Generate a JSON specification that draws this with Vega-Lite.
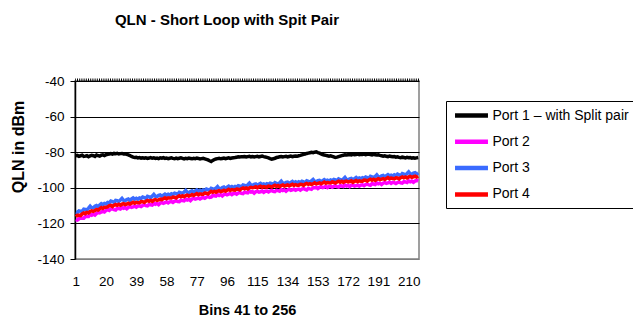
{
"$schema": "https://vega.github.io/schema/vega-lite/v6.json",
"width": 344, "height": 178,
"autosize": "none",
"padding": {"left": 75, "top": 81, "right": 214, "bottom": 60},
"background": "white",
"config": {"font": "Liberation Sans", "view": {"stroke": "#808080", "strokeWidth": 1.5}},
"title": {"text": "QLN - Short Loop with Spit Pair", "frame": "group", "anchor": "middle", "offset": 46, "dx": -20, "fontSize": 15, "fontWeight": "bold", "font": "Liberation Sans", "color": "black"},
"layer": [
{
"data": {"values": [
{"b":1,"P1":-82.1,"P2":-117.8,"P3":-113.7,"P4":-116.2},
{"b":2,"P1":-81.8,"P2":-118.1,"P3":-113.9,"P4":-115.4},
{"b":3,"P1":-82.3,"P2":-117.4,"P3":-113.0,"P4":-115.4},
{"b":4,"P1":-82.0,"P2":-116.8,"P3":-113.1,"P4":-115.6},
{"b":5,"P1":-81.7,"P2":-117.1,"P3":-113.3,"P4":-114.7},
{"b":6,"P1":-82.4,"P2":-117.1,"P3":-112.0,"P4":-114.1},
{"b":7,"P1":-82.2,"P2":-116.1,"P3":-112.2,"P4":-114.5},
{"b":8,"P1":-81.9,"P2":-116.1,"P3":-112.4,"P4":-113.8},
{"b":9,"P1":-82.5,"P2":-116.1,"P3":-111.4,"P4":-114.1},
{"b":10,"P1":-82.1,"P2":-115.0,"P3":-110.3,"P4":-113.3},
{"b":11,"P1":-81.8,"P2":-115.4,"P3":-111.3,"P4":-112.9},
{"b":12,"P1":-82.0,"P2":-114.8,"P3":-111.2,"P4":-113.2},
{"b":13,"P1":-82.4,"P2":-115.3,"P3":-110.4,"P4":-112.7},
{"b":14,"P1":-81.6,"P2":-114.4,"P3":-110.0,"P4":-112.2},
{"b":15,"P1":-81.9,"P2":-113.8,"P3":-110.6,"P4":-112.5},
{"b":16,"P1":-82.2,"P2":-114.1,"P3":-109.7,"P4":-111.8},
{"b":17,"P1":-81.7,"P2":-113.6,"P3":-108.9,"P4":-111.1},
{"b":18,"P1":-81.5,"P2":-113.1,"P3":-109.5,"P4":-111.6},
{"b":19,"P1":-81.9,"P2":-113.5,"P3":-108.8,"P4":-110.9},
{"b":20,"P1":-81.4,"P2":-112.7,"P3":-109.1,"P4":-110.9},
{"b":21,"P1":-81.2,"P2":-112.3,"P3":-108.2,"P4":-110.7},
{"b":22,"P1":-81.0,"P2":-112.7,"P3":-108.5,"P4":-110.0},
{"b":23,"P1":-80.8,"P2":-111.9,"P3":-107.5,"P4":-109.9},
{"b":24,"P1":-81.1,"P2":-111.8,"P3":-107.8,"P4":-110.5},
{"b":25,"P1":-80.7,"P2":-112.3,"P3":-108.2,"P4":-109.8},
{"b":26,"P1":-80.9,"P2":-112.5,"P3":-107.1,"P4":-109.4},
{"b":27,"P1":-80.6,"P2":-111.5,"P3":-107.3,"P4":-109.8},
{"b":28,"P1":-81.0,"P2":-111.7,"P3":-107.7,"P4":-109.3},
{"b":29,"P1":-80.8,"P2":-111.9,"P3":-106.9,"P4":-109.8},
{"b":30,"P1":-80.7,"P2":-111.0,"P3":-106.0,"P4":-109.2},
{"b":31,"P1":-81.0,"P2":-111.5,"P3":-107.1,"P4":-108.9},
{"b":32,"P1":-80.9,"P2":-111.1,"P3":-107.2,"P4":-109.4},
{"b":33,"P1":-81.2,"P2":-111.8,"P3":-106.6,"P4":-109.1},
{"b":34,"P1":-81.5,"P2":-111.0,"P3":-106.3,"P4":-108.7},
{"b":35,"P1":-81.9,"P2":-110.5,"P3":-107.0,"P4":-109.1},
{"b":36,"P1":-82.4,"P2":-111.0,"P3":-106.3,"P4":-108.6},
{"b":37,"P1":-82.8,"P2":-110.7,"P3":-105.7,"P4":-108.1},
{"b":38,"P1":-83.0,"P2":-110.3,"P3":-106.4,"P4":-108.7},
{"b":39,"P1":-82.9,"P2":-110.9,"P3":-105.9,"P4":-108.2},
{"b":40,"P1":-83.2,"P2":-110.3,"P3":-106.4,"P4":-108.4},
{"b":41,"P1":-83.0,"P2":-110.1,"P3":-105.7,"P4":-108.4},
{"b":42,"P1":-83.3,"P2":-110.5,"P3":-106.0,"P4":-107.7},
{"b":43,"P1":-83.1,"P2":-109.9,"P3":-105.2,"P4":-107.8},
{"b":44,"P1":-83.4,"P2":-109.5,"P3":-105.5,"P4":-108.2},
{"b":45,"P1":-83.2,"P2":-110.0,"P3":-105.9,"P4":-107.5},
{"b":46,"P1":-83.5,"P2":-110.2,"P3":-104.8,"P4":-107.1},
{"b":47,"P1":-83.3,"P2":-109.3,"P3":-105.1,"P4":-107.6},
{"b":48,"P1":-83.0,"P2":-109.5,"P3":-105.5,"P4":-107.1},
{"b":49,"P1":-83.4,"P2":-109.7,"P3":-104.7,"P4":-107.6},
{"b":50,"P1":-83.2,"P2":-108.7,"P3":-103.7,"P4":-106.9},
{"b":51,"P1":-83.5,"P2":-109.2,"P3":-104.8,"P4":-106.6},
{"b":52,"P1":-83.3,"P2":-108.8,"P3":-104.9,"P4":-107.1},
{"b":53,"P1":-83.6,"P2":-109.5,"P3":-104.3,"P4":-106.8},
{"b":54,"P1":-83.2,"P2":-108.7,"P3":-104.0,"P4":-106.4},
{"b":55,"P1":-83.4,"P2":-108.2,"P3":-104.8,"P4":-106.6},
{"b":56,"P1":-83.1,"P2":-108.7,"P3":-104.1,"P4":-106.1},
{"b":57,"P1":-83.5,"P2":-108.4,"P3":-103.5,"P4":-105.6},
{"b":58,"P1":-83.3,"P2":-107.9,"P3":-104.1,"P4":-106.1},
{"b":59,"P1":-83.6,"P2":-108.5,"P3":-103.6,"P4":-105.6},
{"b":60,"P1":-83.4,"P2":-107.9,"P3":-104.1,"P4":-105.8},
{"b":61,"P1":-83.2,"P2":-107.7,"P3":-103.4,"P4":-105.8},
{"b":62,"P1":-83.5,"P2":-108.2,"P3":-103.8,"P4":-105.2},
{"b":63,"P1":-83.7,"P2":-107.6,"P3":-103.0,"P4":-105.3},
{"b":64,"P1":-83.3,"P2":-107.2,"P3":-103.3,"P4":-105.7},
{"b":65,"P1":-83.6,"P2":-107.7,"P3":-103.7,"P4":-105.0},
{"b":66,"P1":-83.4,"P2":-107.8,"P3":-102.5,"P4":-104.5},
{"b":67,"P1":-83.2,"P2":-106.9,"P3":-102.8,"P4":-105.0},
{"b":68,"P1":-83.5,"P2":-107.1,"P3":-103.2,"P4":-104.5},
{"b":69,"P1":-83.8,"P2":-107.3,"P3":-102.4,"P4":-105.0},
{"b":70,"P1":-83.4,"P2":-106.4,"P3":-101.5,"P4":-104.4},
{"b":71,"P1":-83.6,"P2":-106.9,"P3":-102.6,"P4":-104.1},
{"b":72,"P1":-83.3,"P2":-106.5,"P3":-102.7,"P4":-104.6},
{"b":73,"P1":-83.5,"P2":-107.2,"P3":-102.1,"P4":-104.3},
{"b":74,"P1":-83.7,"P2":-106.3,"P3":-101.7,"P4":-103.8},
{"b":75,"P1":-83.4,"P2":-105.9,"P3":-102.5,"P4":-104.3},
{"b":76,"P1":-83.6,"P2":-106.4,"P3":-101.8,"P4":-103.8},
{"b":77,"P1":-83.3,"P2":-106.1,"P3":-101.2,"P4":-103.3},
{"b":78,"P1":-83.5,"P2":-105.7,"P3":-101.9,"P4":-103.9},
{"b":79,"P1":-83.8,"P2":-106.3,"P3":-101.4,"P4":-103.4},
{"b":80,"P1":-83.6,"P2":-105.7,"P3":-101.9,"P4":-103.6},
{"b":81,"P1":-83.4,"P2":-105.5,"P3":-101.2,"P4":-103.6},
{"b":82,"P1":-83.7,"P2":-105.9,"P3":-101.5,"P4":-102.9},
{"b":83,"P1":-84.0,"P2":-105.3,"P3":-100.7,"P4":-103.0},
{"b":84,"P1":-84.3,"P2":-104.9,"P3":-101.0,"P4":-103.4},
{"b":85,"P1":-84.8,"P2":-105.4,"P3":-101.4,"P4":-102.7},
{"b":86,"P1":-85.2,"P2":-105.2,"P3":-100.3,"P4":-102.0},
{"b":87,"P1":-84.6,"P2":-104.3,"P3":-100.6,"P4":-102.5},
{"b":88,"P1":-84.1,"P2":-104.5,"P3":-101.0,"P4":-102.0},
{"b":89,"P1":-83.8,"P2":-104.7,"P3":-100.2,"P4":-102.5},
{"b":90,"P1":-83.6,"P2":-103.8,"P3":-99.3,"P4":-101.9},
{"b":91,"P1":-83.4,"P2":-104.3,"P3":-100.4,"P4":-101.6},
{"b":92,"P1":-83.7,"P2":-103.9,"P3":-100.5,"P4":-102.1},
{"b":93,"P1":-83.5,"P2":-104.6,"P3":-99.9,"P4":-101.8},
{"b":94,"P1":-83.3,"P2":-103.8,"P3":-99.6,"P4":-101.4},
{"b":95,"P1":-83.6,"P2":-103.4,"P3":-100.4,"P4":-101.9},
{"b":96,"P1":-83.4,"P2":-103.9,"P3":-99.7,"P4":-101.4},
{"b":97,"P1":-83.2,"P2":-103.6,"P3":-99.1,"P4":-100.9},
{"b":98,"P1":-83.5,"P2":-103.2,"P3":-99.8,"P4":-101.5},
{"b":99,"P1":-83.3,"P2":-103.8,"P3":-99.3,"P4":-101.0},
{"b":100,"P1":-83.1,"P2":-103.2,"P3":-99.8,"P4":-101.2},
{"b":101,"P1":-83.0,"P2":-103.1,"P3":-99.2,"P4":-101.3},
{"b":102,"P1":-82.8,"P2":-103.6,"P3":-99.6,"P4":-100.7},
{"b":103,"P1":-82.6,"P2":-103.0,"P3":-98.8,"P4":-100.8},
{"b":104,"P1":-82.7,"P2":-102.6,"P3":-99.1,"P4":-101.2},
{"b":105,"P1":-82.5,"P2":-103.1,"P3":-99.5,"P4":-100.5},
{"b":106,"P1":-82.6,"P2":-103.3,"P3":-98.4,"P4":-100.1},
{"b":107,"P1":-82.4,"P2":-102.4,"P3":-98.7,"P4":-100.6},
{"b":108,"P1":-82.7,"P2":-102.6,"P3":-99.1,"P4":-100.1},
{"b":109,"P1":-82.5,"P2":-102.8,"P3":-98.3,"P4":-100.6},
{"b":110,"P1":-82.3,"P2":-101.9,"P3":-97.4,"P4":-100.0},
{"b":111,"P1":-82.6,"P2":-102.4,"P3":-98.5,"P4":-99.7},
{"b":112,"P1":-82.4,"P2":-102.2,"P3":-98.6,"P4":-100.0},
{"b":113,"P1":-82.7,"P2":-103.0,"P3":-98.1,"P4":-99.8},
{"b":114,"P1":-82.5,"P2":-102.2,"P3":-97.8,"P4":-99.4},
{"b":115,"P1":-82.3,"P2":-101.9,"P3":-98.7,"P4":-100.0},
{"b":116,"P1":-82.6,"P2":-102.4,"P3":-98.0,"P4":-99.5},
{"b":117,"P1":-82.4,"P2":-102.2,"P3":-97.5,"P4":-99.1},
{"b":118,"P1":-82.2,"P2":-101.8,"P3":-98.2,"P4":-99.7},
{"b":119,"P1":-82.5,"P2":-102.5,"P3":-97.8,"P4":-99.3},
{"b":120,"P1":-82.7,"P2":-101.9,"P3":-98.3,"P4":-99.5},
{"b":121,"P1":-82.9,"P2":-101.8,"P3":-97.7,"P4":-99.6},
{"b":122,"P1":-83.2,"P2":-102.3,"P3":-98.1,"P4":-99.0},
{"b":123,"P1":-83.6,"P2":-101.8,"P3":-97.4,"P4":-99.2},
{"b":124,"P1":-83.9,"P2":-101.4,"P3":-97.7,"P4":-99.6},
{"b":125,"P1":-83.7,"P2":-102.0,"P3":-98.2,"P4":-99.0},
{"b":126,"P1":-83.4,"P2":-102.2,"P3":-97.1,"P4":-98.6},
{"b":127,"P1":-83.0,"P2":-101.4,"P3":-97.5,"P4":-99.2},
{"b":128,"P1":-82.8,"P2":-101.6,"P3":-97.9,"P4":-98.7},
{"b":129,"P1":-82.6,"P2":-101.9,"P3":-97.2,"P4":-99.3},
{"b":130,"P1":-82.4,"P2":-101.0,"P3":-96.3,"P4":-98.7},
{"b":131,"P1":-82.7,"P2":-101.5,"P3":-97.4,"P4":-98.4},
{"b":132,"P1":-82.5,"P2":-101.2,"P3":-97.6,"P4":-99.0},
{"b":133,"P1":-82.3,"P2":-101.9,"P3":-97.0,"P4":-98.7},
{"b":134,"P1":-82.6,"P2":-101.2,"P3":-96.8,"P4":-98.4},
{"b":135,"P1":-82.4,"P2":-100.8,"P3":-97.6,"P4":-98.9},
{"b":136,"P1":-82.2,"P2":-101.4,"P3":-97.0,"P4":-98.5},
{"b":137,"P1":-82.5,"P2":-101.1,"P3":-96.4,"P4":-98.0},
{"b":138,"P1":-82.3,"P2":-100.8,"P3":-97.2,"P4":-98.7},
{"b":139,"P1":-82.1,"P2":-101.4,"P3":-96.7,"P4":-98.2},
{"b":140,"P1":-82.3,"P2":-100.9,"P3":-97.3,"P4":-98.5},
{"b":141,"P1":-82.0,"P2":-100.7,"P3":-96.6,"P4":-98.5},
{"b":142,"P1":-81.8,"P2":-101.3,"P3":-97.1,"P4":-98.0},
{"b":143,"P1":-81.5,"P2":-100.7,"P3":-96.3,"P4":-98.1},
{"b":144,"P1":-81.2,"P2":-100.4,"P3":-96.7,"P4":-98.6},
{"b":145,"P1":-81.0,"P2":-100.9,"P3":-97.1,"P4":-97.9},
{"b":146,"P1":-80.7,"P2":-101.2,"P3":-96.1,"P4":-97.6},
{"b":147,"P1":-80.5,"P2":-100.3,"P3":-96.4,"P4":-98.1},
{"b":148,"P1":-80.3,"P2":-100.6,"P3":-96.9,"P4":-97.7},
{"b":149,"P1":-80.1,"P2":-100.8,"P3":-96.1,"P4":-98.2},
{"b":150,"P1":-80.3,"P2":-100.0,"P3":-95.3,"P4":-97.7},
{"b":151,"P1":-80.0,"P2":-100.0,"P3":-96.4,"P4":-97.2},
{"b":152,"P1":-79.8,"P2":-99.7,"P3":-96.6,"P4":-97.8},
{"b":153,"P1":-80.2,"P2":-100.4,"P3":-96.0,"P4":-97.5},
{"b":154,"P1":-80.5,"P2":-99.7,"P3":-95.8,"P4":-97.2},
{"b":155,"P1":-80.9,"P2":-99.3,"P3":-96.6,"P4":-97.7},
{"b":156,"P1":-81.3,"P2":-99.9,"P3":-96.0,"P4":-97.3},
{"b":157,"P1":-81.6,"P2":-99.6,"P3":-95.4,"P4":-96.8},
{"b":158,"P1":-81.8,"P2":-99.2,"P3":-96.1,"P4":-97.4},
{"b":159,"P1":-82.0,"P2":-99.9,"P3":-95.7,"P4":-97.0},
{"b":160,"P1":-82.2,"P2":-99.3,"P3":-96.2,"P4":-97.2},
{"b":161,"P1":-82.0,"P2":-99.2,"P3":-95.6,"P4":-97.3},
{"b":162,"P1":-82.3,"P2":-99.7,"P3":-96.0,"P4":-96.7},
{"b":163,"P1":-82.6,"P2":-99.2,"P3":-95.3,"P4":-96.9},
{"b":164,"P1":-83.0,"P2":-98.8,"P3":-95.6,"P4":-97.3},
{"b":165,"P1":-82.8,"P2":-99.4,"P3":-96.1,"P4":-96.7},
{"b":166,"P1":-82.5,"P2":-99.6,"P3":-95.0,"P4":-96.3},
{"b":167,"P1":-82.2,"P2":-98.8,"P3":-95.4,"P4":-96.9},
{"b":168,"P1":-81.9,"P2":-99.0,"P3":-95.8,"P4":-96.4},
{"b":169,"P1":-81.7,"P2":-99.3,"P3":-95.1,"P4":-97.0},
{"b":170,"P1":-81.5,"P2":-98.4,"P3":-94.2,"P4":-96.4},
{"b":171,"P1":-81.6,"P2":-99.0,"P3":-95.4,"P4":-96.2},
{"b":172,"P1":-81.4,"P2":-98.6,"P3":-95.5,"P4":-96.7},
{"b":173,"P1":-81.3,"P2":-99.4,"P3":-95.0,"P4":-96.5},
{"b":174,"P1":-81.5,"P2":-98.6,"P3":-94.7,"P4":-96.1},
{"b":175,"P1":-81.2,"P2":-98.6,"P3":-95.5,"P4":-96.9},
{"b":176,"P1":-81.4,"P2":-99.1,"P3":-94.8,"P4":-96.4},
{"b":177,"P1":-81.3,"P2":-98.8,"P3":-94.2,"P4":-95.9},
{"b":178,"P1":-81.1,"P2":-98.5,"P3":-95.0,"P4":-96.6},
{"b":179,"P1":-81.4,"P2":-99.1,"P3":-94.5,"P4":-96.1},
{"b":180,"P1":-81.2,"P2":-98.5,"P3":-95.0,"P4":-96.3},
{"b":181,"P1":-81.3,"P2":-98.3,"P3":-94.3,"P4":-96.3},
{"b":182,"P1":-81.1,"P2":-98.8,"P3":-94.7,"P4":-95.7},
{"b":183,"P1":-81.4,"P2":-98.2,"P3":-93.9,"P4":-95.8},
{"b":184,"P1":-81.2,"P2":-97.9,"P3":-94.3,"P4":-96.3},
{"b":185,"P1":-81.0,"P2":-98.4,"P3":-94.7,"P4":-95.6},
{"b":186,"P1":-81.3,"P2":-98.6,"P3":-93.6,"P4":-95.2},
{"b":187,"P1":-81.5,"P2":-97.7,"P3":-93.9,"P4":-95.7},
{"b":188,"P1":-81.2,"P2":-97.9,"P3":-94.3,"P4":-95.2},
{"b":189,"P1":-81.4,"P2":-98.2,"P3":-93.6,"P4":-95.8},
{"b":190,"P1":-81.6,"P2":-97.3,"P3":-92.7,"P4":-95.2},
{"b":191,"P1":-81.5,"P2":-97.8,"P3":-93.8,"P4":-94.9},
{"b":192,"P1":-81.8,"P2":-97.4,"P3":-93.9,"P4":-95.4},
{"b":193,"P1":-82.0,"P2":-98.1,"P3":-93.3,"P4":-95.1},
{"b":194,"P1":-82.2,"P2":-97.4,"P3":-93.1,"P4":-94.8},
{"b":195,"P1":-82.0,"P2":-97.0,"P3":-93.9,"P4":-95.3},
{"b":196,"P1":-82.3,"P2":-97.5,"P3":-93.2,"P4":-94.8},
{"b":197,"P1":-82.5,"P2":-97.2,"P3":-92.6,"P4":-94.3},
{"b":198,"P1":-82.2,"P2":-96.8,"P3":-93.3,"P4":-94.9},
{"b":199,"P1":-82.4,"P2":-97.5,"P3":-92.9,"P4":-94.5},
{"b":200,"P1":-82.6,"P2":-96.9,"P3":-93.4,"P4":-94.7},
{"b":201,"P1":-82.5,"P2":-97.1,"P3":-92.7,"P4":-95.0},
{"b":202,"P1":-82.8,"P2":-97.6,"P3":-93.1,"P4":-94.4},
{"b":203,"P1":-82.6,"P2":-97.0,"P3":-92.3,"P4":-94.5},
{"b":204,"P1":-82.9,"P2":-96.7,"P3":-92.7,"P4":-95.0},
{"b":205,"P1":-83.1,"P2":-97.2,"P3":-93.1,"P4":-94.3},
{"b":206,"P1":-82.8,"P2":-97.4,"P3":-92.0,"P4":-93.9},
{"b":207,"P1":-83.0,"P2":-96.5,"P3":-92.3,"P4":-94.4},
{"b":208,"P1":-83.2,"P2":-96.7,"P3":-92.7,"P4":-93.9},
{"b":209,"P1":-82.9,"P2":-97.0,"P3":-92.0,"P4":-94.5},
{"b":210,"P1":-83.1,"P2":-96.1,"P3":-91.1,"P4":-93.9},
{"b":211,"P1":-83.0,"P2":-96.6,"P3":-92.2,"P4":-93.6},
{"b":212,"P1":-83.3,"P2":-96.2,"P3":-92.3,"P4":-94.1},
{"b":213,"P1":-83.1,"P2":-96.9,"P3":-91.7,"P4":-93.8},
{"b":214,"P1":-83.4,"P2":-96.2,"P3":-91.5,"P4":-93.5},
{"b":215,"P1":-83.2,"P2":-95.8,"P3":-92.3,"P4":-94.0},
{"b":216,"P1":-83.0,"P2":-96.3,"P3":-91.6,"P4":-93.5}
]},
"transform": [{"fold": ["P1","P2","P3","P4"], "as": ["s","v"]}],
"mark": {"type": "line", "strokeWidth": 3.5, "clip": true},
"encoding": {
 "x": {"field": "b", "type": "quantitative",
   "scale": {"domain": [0.5, 216.5], "nice": false, "zero": false},
   "axis": {"values": [1,20,39,58,77,96,115,134,153,172,191,210], "tickCount": 20, "grid": false, "ticks": false, "domain": false,
     "labelPadding": 15, "labelFontSize": 13.5, "labelColor": "black", "labelFlush": false, "labelOverlap": false,
     "title": "Bins 41 to 256", "titleFontSize": 14.5, "titleFontWeight": "bold", "titleColor": "black", "titleY": 44, "titleBaseline": "top"}},
 "y": {"field": "v", "type": "quantitative",
   "scale": {"domain": [-140, -40], "nice": false, "zero": false},
   "axis": {"values": [-140,-120,-100,-80,-60,-40], "tickCount": 10, "grid": true,
     "gridColor": {"condition": {"test": "datum.value == -140", "value": "#808080"}, "value": "black"},
     "gridWidth": 1, "gridOpacity": 1, "domainColor": "black", "domainWidth": 1.5, "tickColor": "black", "tickSize": 5,
     "labelPadding": 6, "labelFontSize": 13.5, "labelColor": "black", "labelOverlap": false, "labelFlush": false,
     "labelExpr": "'-' + abs(datum.value)",
     "title": "QLN in dBm", "titleFontSize": 16, "titleFontWeight": "bold", "titleColor": "black",
     "titleX": -57, "titleY": 65.5, "titleBaseline": "middle", "titleAlign": "center"}},
 "color": {"field": "s", "type": "nominal",
   "scale": {"domain": ["P1","P2","P3","P4"], "range": ["#000000","#FF00FF","#3A6BFF","#FF0000"]},
   "legend": {"title": null, "orient": "none", "legendX": 371, "legendY": 20,
     "strokeColor": "black", "fillColor": "white", "padding": 4,
     "symbolType": "M-2.06,0L2.06,0", "symbolSize": 256, "symbolStrokeWidth": 4.5, "symbolOffset": 11,
     "labelFontSize": 14, "labelColor": "black", "labelFont": "Liberation Sans", "labelLimit": 300,
     "rowPadding": 6.3, "labelOffset": 10.5,
     "labelExpr": "datum.label == 'P1' ? 'Port 1 – with Split pair' : datum.label == 'P2' ? 'Port 2' : datum.label == 'P3' ? 'Port 3' : 'Port 4'"}}
}
},
{
"data": {"values": [{"v": -40}]},
"mark": {"type": "rule", "strokeWidth": 3, "strokeDash": [1, 1.2], "color": "black", "yOffset": -1},
"encoding": {"y": {"field": "v", "type": "quantitative"}}
}
]
}
